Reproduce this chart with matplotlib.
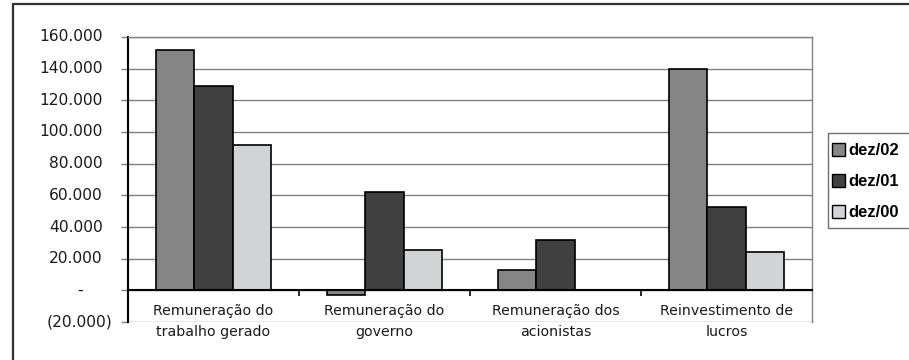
import matplotlib
matplotlib.use("Agg")
from matplotlib import pyplot as plt
from matplotlib import transforms
from matplotlib.patches import Rectangle
import numpy as np

categories = ["Remuneração do\ntrabalho gerado", "Remuneração do\ngoverno",
              "Remuneração dos\nacionistas", "Reinvestimento de\nlucros"]
series = ["dez/02", "dez/01", "dez/00"]
dez02 = [152000, -3000, 13000, 140000]
dez01 = [129000, 62000, 31500, 52500]
dez00 = [92000, 25500, 0, 24000]
yticks = [-20000, 0, 20000, 40000, 60000, 80000, 100000, 120000, 140000, 160000]

colors = ["#858585", "#404040", "#d2d3d5"]


def fmt(v):
    if v == 0:
        return "-"
    s = f"{abs(v):,.0f}".replace(",", ".")
    return f"({s})" if v < 0 else s


fig = plt.figure(figsize=(9.09, 3.6), dpi=100)
ax = fig.add_axes([128 / 909, 38 / 360, 684 / 909, 285 / 360])

x = np.arange(len(categories))
w = 0.225
for i, (vals, c) in enumerate(zip([dez02, dez01, dez00], colors)):
    ax.bar(x + (i - 1) * w, vals, w, color=c, edgecolor="black", linewidth=1.2,
           label=series[i], zorder=3)

ax.set_xlim(-0.5, len(categories) - 0.5)
ax.set_ylim(-20000, 160000)
ax.set_yticks(yticks)
ax.set_yticklabels([])
ax.yaxis.grid(True, color="#808080", linewidth=1.0, zorder=0)
ax.tick_params(axis="y", direction="out", length=5, color="#808080", width=1.0)

# y labels drawn by hand so the accounting-style alignment can be kept
ytr = ax.get_yaxis_transform()
for v in yticks:
    if v > 0:
        off = -25
        ha = "right"
    elif v < 0:
        off = -16
        ha = "right"
    else:
        off = -48
        ha = "center"
    t = transforms.offset_copy(ytr, fig=fig, x=off, y=0, units="dots")
    ax.text(0, v, fmt(v), transform=t, ha=ha, va="center",
            fontsize=11.2, family="DejaVu Sans", color="#1a1a1a")

# category axis sits on the zero line
ax.spines["bottom"].set_position(("data", 0))
ax.spines["bottom"].set_color("black")
ax.spines["bottom"].set_linewidth(1.5)
ax.spines["bottom"].set_zorder(4)
ax.spines["left"].set_color("black")
ax.spines["left"].set_linewidth(1.5)
for s in ["top", "right"]:
    ax.spines[s].set_color("#808080")
    ax.spines[s].set_linewidth(1.0)

ax.set_xticks(x[:-1] + 0.5)
ax.set_xticklabels([])
ax.set_xticks(x, minor=True)
ax.set_xticklabels(categories, minor=True, fontsize=10.2, family="DejaVu Sans",
                   color="#1a1a1a", linespacing=1.6)
ax.tick_params(axis="x", which="major", direction="out", length=4, width=1.2,
               color="black")
ax.tick_params(axis="x", which="minor", length=0, pad=10)

# legend with a hand-drawn box
leg = fig.legend(loc="upper left", bbox_to_anchor=(832 / 909, 1 - 143 / 360),
                 frameon=False, prop={"family": "Liberation Sans", "weight": "bold", "size": 12},
                 handlelength=0.8, handleheight=0.8, handletextpad=0.2,
                 labelspacing=0.95, borderpad=0, borderaxespad=0)
for h in leg.legend_handles:
    h.set_edgecolor("black")
    h.set_linewidth(1.0)
fig.patches.append(Rectangle((828 / 909, 1 - 228 / 360), 0.2, 95 / 360,
                             transform=fig.transFigure, fill=False,
                             edgecolor="#707070", linewidth=1.0))

# outer chart frame
fig.patches.append(Rectangle((13 / 909, -0.1), 1.0, 1.1 - 4 / 360,
                             transform=fig.transFigure, fill=False,
                             edgecolor="#333333", linewidth=1.6))

fig.savefig("out.png", dpi=100)
